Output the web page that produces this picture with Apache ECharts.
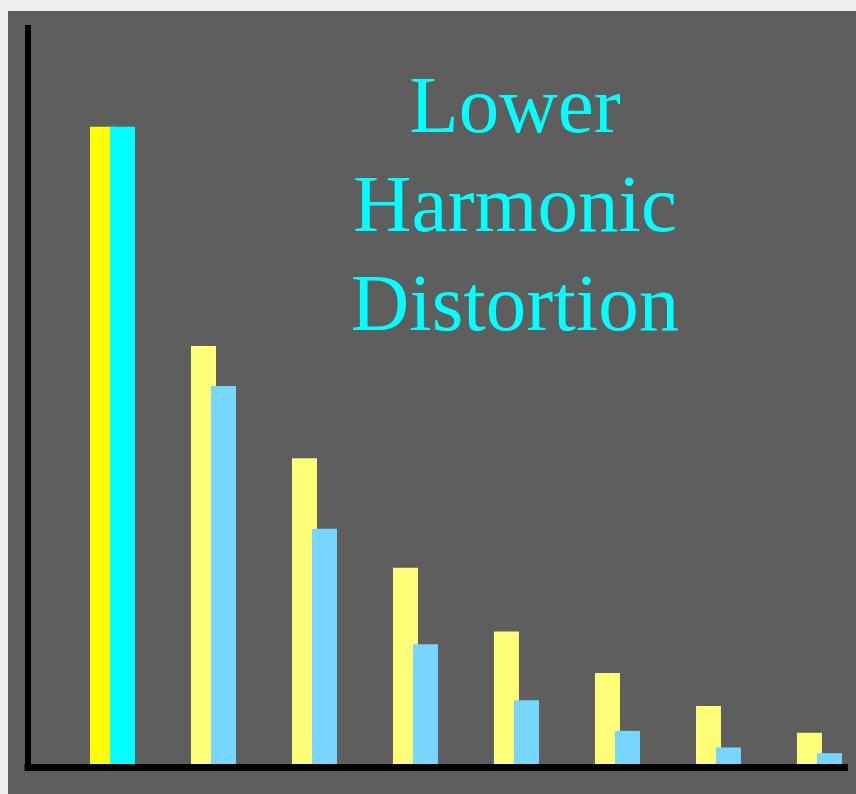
<!DOCTYPE html>
<html>
<head>
<meta charset="utf-8">
<script src="https://cdn.jsdelivr.net/npm/echarts@6/dist/echarts.min.js"></script>
<style>
  html, body { margin: 0; padding: 0; background: #efefee; }
  #harmonicChart {
    position: absolute;
    left: 8px;
    top: 11px;
    width: 848px;
    height: 783px;
  }
</style>
</head>
<body>
<div id="harmonicChart"></div>
<script>
// harmonic order on x, relative amplitude (% of fundamental) on y
const harmonics = [1, 2, 3, 4, 5, 6, 7, 8];
const standardLevels = [100, 65.6, 48.0, 30.8, 20.8, 14.3, 9.1, 4.9];
const lowerLevels = [100, 59.3, 36.9, 18.8, 10.0, 5.2, 2.6, 1.7];
const titleLines = ["Lower", "Harmonic", "Distortion"];

const paleYellow = "#ffff77";
const paleBlue = "#77d6ff";

let myChart = echarts.init(document.getElementById("harmonicChart"));

const option = {
  backgroundColor: "#5e5e5e",
  animation: false,
  title: {
    text: titleLines.join("\n"),
    left: 502,
    top: 45,
    textAlign: "center",
    textStyle: {
      color: "#00ffff",
      fontFamily: "Liberation Serif",
      fontWeight: "normal",
      fontSize: 81,
      lineHeight: 99,
    },
  },
  grid: {
    left: 20,
    top: 17,
    right: 11.5,
    bottom: 30,
  },
  xAxis: {
    type: "value",
    min: 0.1634,
    max: 8.248,
    offset: 3.5,
    axisLine: {
      show: true,
      onZero: false,
      lineStyle: { color: "#000", width: 7, cap: "square" },
    },
    axisTick: { show: false },
    axisLabel: { show: false },
    splitLine: { show: false },
  },
  yAxis: {
    type: "value",
    min: 0,
    max: 115.5,
    axisLine: {
      show: true,
      onZero: false,
      lineStyle: { color: "#000", width: 6, cap: "square" },
    },
    axisTick: { show: false },
    axisLabel: { show: false },
    splitLine: { show: false },
  },
  series: [
    {
      name: "standard",
      type: "bar",
      barWidth: 25,
      barGap: "-20%",
      itemStyle: { color: paleYellow },
      data: harmonics.map((h, i) => ({
        value: [h, standardLevels[i]],
        itemStyle: i === 0 ? { color: "#ffff00" } : undefined,
      })),
    },
    {
      name: "lower",
      type: "bar",
      barWidth: 25,
      barGap: "-20%",
      itemStyle: { color: paleBlue },
      data: harmonics.map((h, i) => ({
        value: [h, lowerLevels[i]],
        itemStyle: i === 0 ? { color: "#00ffff" } : undefined,
      })),
    },
  ],
};

myChart.setOption(option);
</script>
</body>
</html>
